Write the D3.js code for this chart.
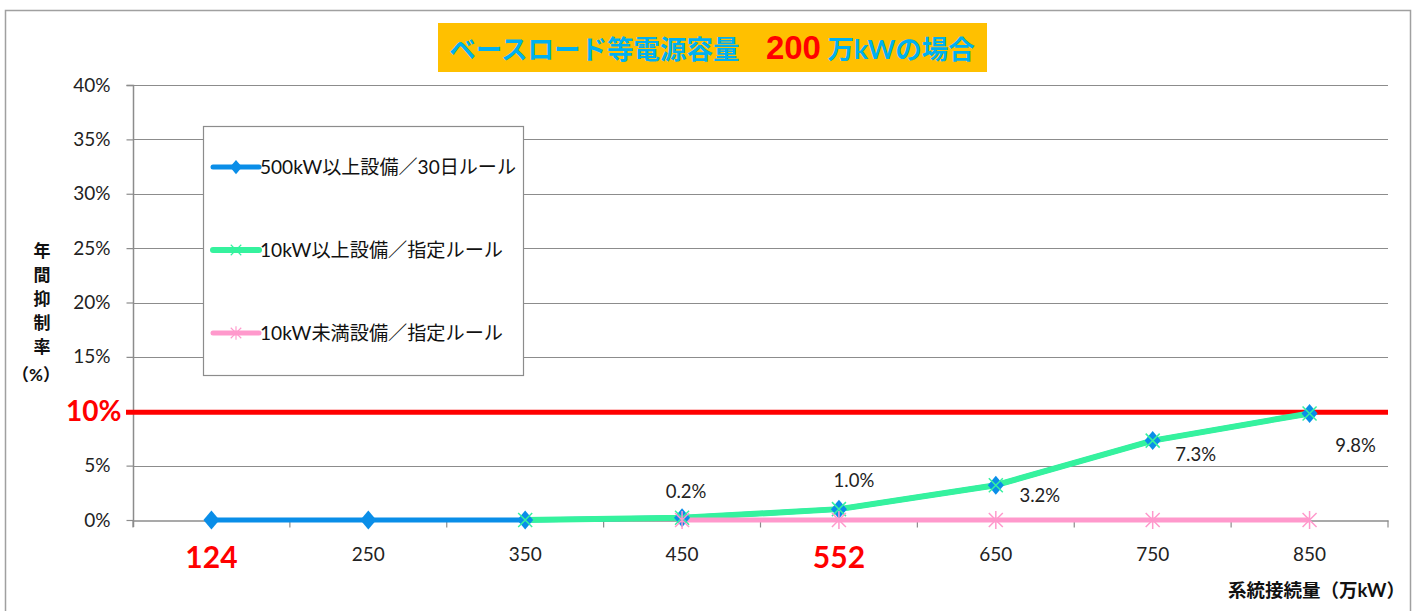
<!DOCTYPE html>
<html>
<head>
<meta charset="utf-8">
<script src="https://cdn.jsdelivr.net/npm/d3@7"></script>
<style>
  body { margin: 0; background: #fff; }
  text { font-family: Lato, "Noto Sans CJK JP", sans-serif; }
</style>
</head>
<body>
<svg width="1412" height="611"></svg>
<script>
var categories = ["124", "250", "350", "450", "552", "650", "750", "850"];
var highlightCats = ["124", "552"];
var blueVals = [0, 0, 0, 0.002, 0.010, 0.032, 0.073, 0.098];
var greenVals = [null, null, 0, 0.002, 0.010, 0.032, 0.073, 0.098];
var pinkVals = [null, null, null, 0, 0, 0, 0, 0];
var yTicks = [0, 0.05, 0.10, 0.15, 0.20, 0.25, 0.30, 0.35, 0.40];
var limitVal = 0.10;
var seriesNames = ["500kW以上設備／30日ルール", "10kW以上設備／指定ルール", "10kW未満設備／指定ルール"];

var svg = d3.select("svg");

// outer frame
svg.append("rect")
  .attr("x", 5.5).attr("y", 10.5)
  .attr("width", 1405).attr("height", 610)
  .attr("fill", "none").attr("stroke", "#a0a0a0").attr("stroke-width", 1.5);

var xScale = d3.scaleBand()
  .domain(categories)
  .range([133, 1388])
  .padding(0);

var yScale = d3.scaleLinear()
  .domain([0, 0.4])
  .range([520, 85]);

var cx = function(c) { return xScale(c) + xScale.bandwidth() / 2; };

// gridlines
svg.append("g").selectAll("line")
  .data(yTicks.filter(function(d) { return d > 0; }))
  .enter().append("line")
  .attr("x1", 133).attr("x2", 1388)
  .attr("y1", function(d) { return Math.round(yScale(d)) + 0.5; })
  .attr("y2", function(d) { return Math.round(yScale(d)) + 0.5; })
  .attr("stroke", "#8c8c8c").attr("stroke-width", 1.2);

// y axis
var yAxis = d3.axisLeft(yScale)
  .tickValues(yTicks)
  .tickSize(7)
  .tickPadding(16)
  .tickFormat(function(d) { return Math.round(d * 100) + "%"; });

var gy = svg.append("g")
  .attr("transform", "translate(133.5,0)")
  .call(yAxis);
gy.select(".domain").attr("stroke", "#8c8c8c").attr("stroke-width", 1.5)
  .attr("d", "M-7,85.5H0V527");
gy.selectAll(".tick line").attr("stroke", "#8c8c8c").attr("stroke-width", 1.2);
gy.selectAll(".tick text")
  .attr("font-size", 19).attr("fill", "#222")
  .attr("font-family", "Lato, sans-serif");
gy.selectAll(".tick text")
  .filter(function(d) { return Math.abs(d - limitVal) < 1e-9; })
  .attr("font-size", 28).attr("font-weight", "bold").attr("fill", "#ff0000")
  .attr("x", -12);

// x axis
var xAxis = d3.axisBottom(xScale).tickSize(0).tickPadding(26);
var gx = svg.append("g")
  .attr("transform", "translate(0,520.5)")
  .call(xAxis);
gx.select(".domain").attr("stroke", "#8c8c8c").attr("stroke-width", 1.5);
gx.selectAll(".tick text")
  .attr("font-size", 19).attr("fill", "#222")
  .attr("font-family", "Lato, sans-serif")
  .attr("dy", "0.75em");
gx.selectAll(".tick text")
  .filter(function(d) { return highlightCats.indexOf(d) >= 0; })
  .attr("font-size", 30).attr("font-weight", "bold").attr("fill", "#ff0000")
  .attr("dy", "0.7em");
// boundary ticks between categories
gx.append("g").selectAll("line")
  .data(d3.range(categories.length + 1))
  .enter().append("line")
  .attr("x1", function(i) { return 133 + i * xScale.step(); })
  .attr("x2", function(i) { return 133 + i * xScale.step(); })
  .attr("y1", 0).attr("y2", 7)
  .attr("stroke", "#8c8c8c").attr("stroke-width", 1.2);

// 10% limit line
svg.append("line")
  .attr("x1", 126).attr("x2", 1388)
  .attr("y1", yScale(limitVal) + 1).attr("y2", yScale(limitVal) + 1)
  .attr("stroke", "#ff0000").attr("stroke-width", 5);

var series = [
  { vals: blueVals, color: "#0a8ee8", width: 5, marker: "diamond" },
  { vals: greenVals, color: "#35f29e", width: 6, marker: "x" },
  { vals: pinkVals, color: "#ff99cc", width: 5, marker: "star" }
];

var line = d3.line()
  .defined(function(d) { return d.v !== null; })
  .x(function(d) { return cx(d.c); })
  .y(function(d) { return yScale(d.v); });

series.forEach(function(s) {
  s.pts = categories.map(function(c, i) { return { c: c, v: s.vals[i] }; });
  svg.append("path")
    .datum(s.pts)
    .attr("d", line)
    .attr("fill", "none")
    .attr("stroke", s.color)
    .attr("stroke-width", s.width)
    .attr("stroke-linejoin", "round");
});

function drawMarker(g, type, color) {
  if (type === "diamond") {
    g.append("path").attr("d", "M0,-9.5L8,0L0,9.5L-8,0Z").attr("fill", color);
  } else if (type === "x") {
    g.append("path").attr("d", "M-7,-7L7,7M-7,7L7,-7").attr("stroke", color).attr("stroke-width", 1.5);
  } else {
    g.append("path").attr("d", "M-7,-7L7,7M-7,7L7,-7M0,-9V9").attr("stroke", color).attr("stroke-width", 1.5);
  }
}

series.forEach(function(s) {
  svg.append("g").selectAll("g")
    .data(s.pts.filter(function(d) { return d.v !== null; }))
    .enter().append("g")
    .attr("transform", function(d) { return "translate(" + cx(d.c) + "," + yScale(d.v) + ")"; })
    .each(function() { drawMarker(d3.select(this), s.marker, s.color); });
});

// data labels (offsets as placed in the original)
var labelOffsets = { "450": [4, -20], "552": [15, -22], "650": [44, 17], "750": [43, 20], "850": [46, 39] };
svg.append("g").selectAll("text")
  .data(categories.map(function(c, i) { return { c: c, v: blueVals[i] }; })
    .filter(function(d) { return labelOffsets[d.c]; }))
  .enter().append("text")
  .attr("x", function(d) { return cx(d.c) + labelOffsets[d.c][0]; })
  .attr("y", function(d) { return yScale(d.v) + labelOffsets[d.c][1]; })
  .attr("text-anchor", "middle")
  .attr("font-size", 18.5).attr("fill", "#222")
  .attr("font-family", "Lato, sans-serif")
  .text(function(d) { return (d.v * 100).toFixed(1) + "%"; });

// legend
var legend = svg.append("g").attr("transform", "translate(203,126)");
legend.append("rect")
  .attr("x", 0.5).attr("y", 0.5).attr("width", 320).attr("height", 249)
  .attr("fill", "#fff").attr("stroke", "#8c8c8c").attr("stroke-width", 1.2);
series.forEach(function(s, i) {
  var ly = 41 + i * 83;
  var g = legend.append("g").attr("transform", "translate(0," + ly + ")");
  g.append("line").attr("x1", 10).attr("x2", 56).attr("y1", 0).attr("y2", 0)
    .attr("stroke", s.color).attr("stroke-width", s.width).attr("stroke-linecap", "round");
  var m = g.append("g").attr("transform", "translate(33,0) scale(0.75)");
  drawMarker(m, s.marker, s.color);
  g.append("text").attr("x", 57).attr("y", 7)
    .attr("font-size", 19).attr("fill", "#111")
    .attr("textLength", i === 0 ? 256 : 243).attr("lengthAdjust", "spacingAndGlyphs")
    .text(seriesNames[i]);
});

// title
var title = svg.append("g");
title.append("rect")
  .attr("x", 438).attr("y", 23).attr("width", 549).attr("height", 49)
  .attr("fill", "#ffc000");
var tt = title.append("text")
  .attr("x", 712).attr("y", 59)
  .attr("text-anchor", "middle")
  .attr("font-weight", "bold")
  .attr("font-family", "'Noto Sans CJK JP', sans-serif");
tt.append("tspan").attr("fill", "#00b0f0").attr("font-size", 26.5).text("ベースロード等電源容量　");
tt.append("tspan").attr("fill", "#ff0000").attr("font-size", 33)
  .attr("font-family", "'Liberation Sans', sans-serif").text("200");
tt.append("tspan").attr("fill", "#00b0f0").attr("font-size", 26.5).text(" 万kWの場合");

// y axis title (vertical stacked)
var yTitleChars = ["年", "間", "抑", "制", "率"];
svg.append("g").selectAll("text")
  .data(yTitleChars)
  .enter().append("text")
  .attr("x", 42).attr("y", function(d, i) { return 257 + i * 24; })
  .attr("text-anchor", "middle")
  .attr("font-size", 17).attr("font-weight", "bold").attr("fill", "#111")
  .attr("font-family", "'Noto Sans CJK JP', sans-serif")
  .text(function(d) { return d; });
svg.append("text")
  .attr("x", 36).attr("y", 381)
  .attr("text-anchor", "middle")
  .attr("font-size", 17).attr("font-weight", "bold").attr("fill", "#111")
  .attr("font-family", "'Noto Sans CJK JP', sans-serif")
  .text("（%）");

// x axis title
svg.append("text")
  .attr("x", 1405).attr("y", 597)
  .attr("text-anchor", "end")
  .attr("font-size", 18.5).attr("font-weight", "bold").attr("fill", "#111")
  .attr("font-family", "'Noto Sans CJK JP', sans-serif")
  .text("系統接続量（万kW）");
</script>
</body>
</html>
